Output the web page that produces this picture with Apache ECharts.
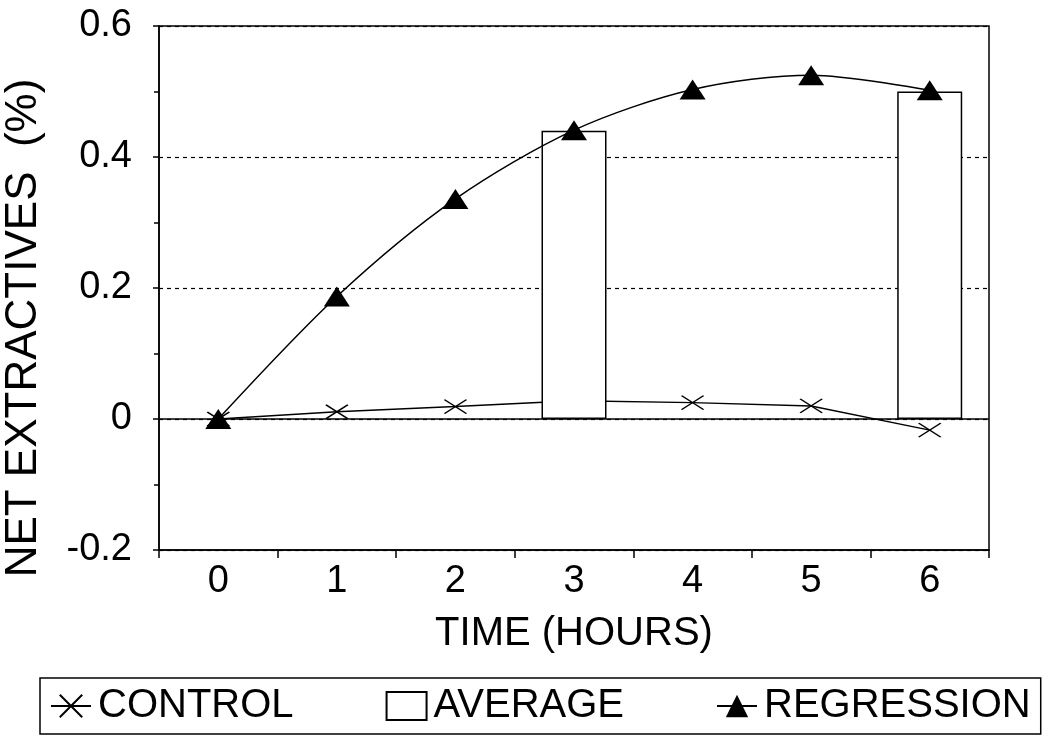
<!DOCTYPE html>
<html>
<head>
<meta charset="utf-8">
<script src="https://cdn.jsdelivr.net/npm/echarts@6/dist/echarts.min.js"></script>
<style>html,body{margin:0;padding:0;background:#fff}#c{width:1050px;height:738px}</style>
</head>
<body>
<div id="c"></div>
<script>
const categories = ['0','1','2','3','4','5','6'];
const control = [0, 0.011, 0.019, 0.028, 0.025, 0.020, -0.017];
const average = [null, null, null, 0.44, null, null, 0.50];
const regression = [0, 0.187, 0.336, 0.441, 0.503, 0.525, 0.502];
const yTicks = [-0.2, 0, 0.2, 0.4, 0.6];

const FONT = '"Liberation Sans", Arial, sans-serif';
const chart = echarts.init(document.getElementById('c'));
chart.setOption({
  animation: false,
  backgroundColor: '#fff',
  textStyle: {fontFamily: FONT, color: '#000'},
  grid: {left: 159, right: 61, top: 26, bottom: 188, show: true, borderColor: '#000', borderWidth: 1.5,
    backgroundColor: 'transparent', containLabel: false, outerBoundsMode: 'none'},
  legend: {
    left: 40, top: 678,
    data: [
      {name: 'CONTROL'},
      {name: 'AVERAGE', icon: 'rect'},
      {name: 'REGRESSION'}
    ],
    borderColor: '#000', borderWidth: 1.5, padding: [8, 10],
    itemWidth: 40, itemHeight: 28, itemGap: 92,
    textStyle: {fontSize: 40, fontFamily: FONT, color: '#000', padding: [0, 0, 0, 2]}
  },
  xAxis: {
    type: 'category', data: categories, boundaryGap: true,
    axisLine: {onZero: false, lineStyle: {color: '#000', width: 1.5}},
    axisTick: {show: true, alignWithLabel: false, length: 8, lineStyle: {color: '#000', width: 1.5}},
    axisLabel: {fontSize: 38, color: '#000', margin: 13, fontFamily: FONT},
    name: 'TIME (HOURS)', nameLocation: 'middle', nameGap: 64,
    nameTextStyle: {fontSize: 40, color: '#000', fontFamily: FONT},
    splitLine: {show: false}
  },
  yAxis: {
    type: 'value', min: yTicks[0], max: yTicks[yTicks.length - 1], interval: 0.2,
    axisLine: {show: true, lineStyle: {color: '#000', width: 1.5}},
    axisTick: {show: true, length: 6, lineStyle: {color: '#000', width: 1.5}},
    minorTick: {show: true, splitNumber: 2, length: 5, lineStyle: {color: '#000', width: 1.5}},
    axisLabel: {fontSize: 38, color: '#000', margin: 27, fontFamily: FONT,
      formatter: v => String(Math.round(v * 10) / 10)},
    splitLine: {show: true, lineStyle: {color: '#000', type: [4, 4], width: 1.2}},
    name: 'NET EXTRACTIVES  (%)', nameLocation: 'middle', nameGap: 113, nameRotate: 90,
    nameTextStyle: {fontSize: 44, color: '#000', fontFamily: FONT, padding: [0, 80, 0, 0]}
  },
  series: [
    {
      name: 'CONTROL', type: 'line', data: control, z: 1,
      symbol: 'path://M0,0L22,14M22,0L0,14', symbolSize: [22, 14],
      itemStyle: {color: '#000', borderColor: '#000', borderWidth: 1.5},
      lineStyle: {color: '#000', width: 1.5},
      markLine: {silent: true, symbol: ['none', 'none'], label: {show: false},
        lineStyle: {color: '#000', type: 'solid', width: 1.5}, data: [{yAxis: 0}]}
    },
    {
      name: 'AVERAGE', type: 'bar', data: average, z: 2, barWidth: 65,
      itemStyle: {color: '#fff', borderColor: '#000', borderWidth: 1.5}
    },
    {
      name: 'REGRESSION', type: 'line', data: regression, z: 3, smooth: 0.3,
      symbol: 'triangle', symbolSize: [26, 20],
      itemStyle: {color: '#000'},
      lineStyle: {color: '#000', width: 1.5}
    }
  ]
});
</script>
</body>
</html>
